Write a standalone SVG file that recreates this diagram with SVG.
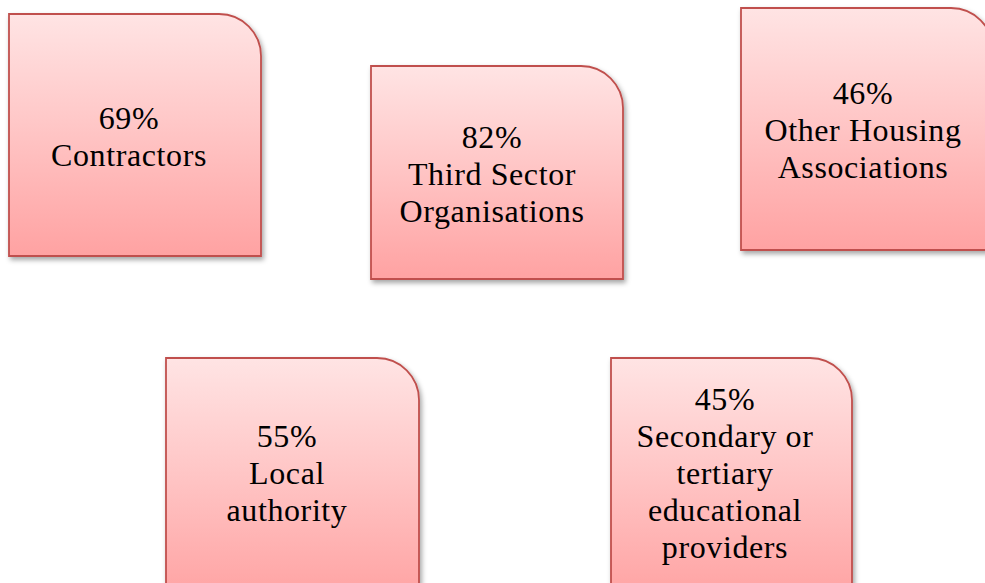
<svg xmlns="http://www.w3.org/2000/svg" width="985" height="583" viewBox="0 0 985 583">
  <defs>
    <linearGradient id="pinkFill" x1="0" y1="0" x2="0" y2="1">
      <stop offset="0" stop-color="#ffe4e4"/>
      <stop offset="0.5" stop-color="#ffc4c4"/>
      <stop offset="1" stop-color="#ffa2a2"/>
    </linearGradient>
    <filter id="shadow" x="-10%" y="-10%" width="120%" height="120%">
      <feDropShadow dx="2" dy="3" stdDeviation="2.5" flood-color="#000" flood-opacity="0.35"/>
    </filter>
  </defs>
  <style>
    .box { fill: url(#pinkFill); stroke: #c0504d; stroke-width: 1.8; filter: url(#shadow); }
    .label { font-family: "Liberation Serif", "Times New Roman", serif; font-size: 32px; letter-spacing: 0.6px; fill: #000; text-anchor: middle; }
  </style>
  <rect width="985" height="583" fill="#ffffff"/>

  <g id="contractors">
    <path class="box" d="M9,14 H219 A42,42 0 0 1 261,56 V256 H9 Z"/>
    <text class="label" x="129" y="129">69%</text>
    <text class="label" x="129" y="166">Contractors</text>
  </g>

  <g id="third-sector">
    <path class="box" d="M371,66 H581 A42,42 0 0 1 623,108 V279 H371 Z"/>
    <text class="label" x="492" y="148">82%</text>
    <text class="label" x="492" y="185">Third Sector</text>
    <text class="label" x="492" y="222">Organisations</text>
  </g>

  <g id="housing-associations">
    <path class="box" d="M741,8 H951 A42,42 0 0 1 993,50 V250 H741 Z"/>
    <text class="label" x="863" y="104">46%</text>
    <text class="label" x="863" y="141">Other Housing</text>
    <text class="label" x="863" y="178">Associations</text>
  </g>

  <g id="local-authority">
    <path class="box" d="M166,358 H377 A42,42 0 0 1 419,400 V600 H166 Z"/>
    <text class="label" x="287" y="447">55%</text>
    <text class="label" x="287" y="484">Local</text>
    <text class="label" x="287" y="521">authority</text>
  </g>

  <g id="educational-providers">
    <path class="box" d="M611,358 H810 A42,42 0 0 1 852,400 V600 H611 Z"/>
    <text class="label" x="725" y="410">45%</text>
    <text class="label" x="725" y="447">Secondary or</text>
    <text class="label" x="725" y="484">tertiary</text>
    <text class="label" x="725" y="521">educational</text>
    <text class="label" x="725" y="558">providers</text>
  </g>

  <g id="connectors"/>
</svg>
